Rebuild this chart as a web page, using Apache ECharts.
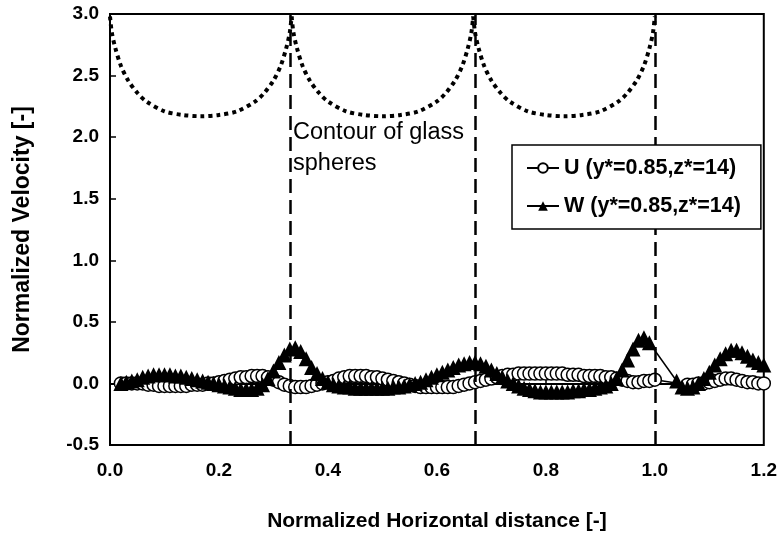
<!DOCTYPE html>
<html>
<head>
<meta charset="utf-8">
<script src="https://cdn.jsdelivr.net/npm/echarts@6/dist/echarts.min.js"></script>
<style>
html, body { margin: 0; padding: 0; background: #fff; }
#chart { width: 780px; height: 539px; }
</style>
</head>
<body>
<div id="chart"></div>
<script>
// U velocity (open circles)
var uX = [0.02,0.03,0.04,0.05,0.06,0.07,0.08,0.09,0.10,0.11,
  0.12,0.13,0.14,0.15,0.16,0.17,0.18,0.19,0.20,0.21,
  0.22,0.23,0.24,0.25,0.26,0.27,0.28,0.29,0.30,0.31,
  0.32,0.33,0.34,0.35,0.36,0.37,0.38,0.39,0.40,0.41,
  0.42,0.43,0.44,0.45,0.46,0.47,0.48,0.49,0.50,0.51,
  0.52,0.53,0.54,0.55,0.56,0.57,0.58,0.59,0.60,0.61,
  0.62,0.63,0.64,0.65,0.66,0.67,0.68,0.69,0.70,0.71,
  0.72,0.73,0.74,0.75,0.76,0.77,0.78,0.79,0.80,0.81,
  0.82,0.83,0.84,0.85,0.86,0.87,0.88,0.89,0.90,0.91,
  0.92,0.93,0.94,0.95,0.96,0.97,0.98,0.99,1.00,
  1.06,1.07,1.08,1.09,1.10,1.11,1.12,1.13,1.14,1.15,1.16,1.17,1.18,1.19,1.20];
var uVals = [0.00,0.00,0.00,0.00,0.00,-0.01,-0.01,-0.02,-0.02,-0.02,
  -0.02,-0.02,-0.02,-0.01,-0.01,-0.01,0.00,0.00,0.01,0.02,
  0.03,0.04,0.05,0.05,0.06,0.06,0.06,0.05,0.03,0.01,
  -0.01,-0.02,-0.03,-0.03,-0.03,-0.02,-0.01,0.00,0.01,0.02,
  0.04,0.05,0.06,0.06,0.06,0.06,0.05,0.05,0.04,0.03,
  0.02,0.01,0.00,-0.01,-0.02,-0.03,-0.03,-0.03,-0.03,-0.03,
  -0.03,-0.03,-0.02,-0.01,0.00,0.01,0.02,0.03,0.04,0.05,
  0.06,0.07,0.07,0.08,0.08,0.08,0.08,0.08,0.08,0.08,
  0.08,0.08,0.07,0.07,0.07,0.06,0.06,0.06,0.06,0.05,
  0.05,0.04,0.03,0.02,0.01,0.01,0.02,0.02,0.03,
  -0.01,-0.01,0.00,0.00,0.01,0.02,0.03,0.04,0.04,0.03,0.02,0.01,0.01,0.00,0.00];

// W velocity (filled triangles)
var wX = [0.02,0.03,0.04,0.05,0.06,0.07,0.08,0.09,0.10,0.11,
  0.12,0.13,0.14,0.15,0.16,0.17,0.18,0.19,0.20,0.21,
  0.22,0.23,0.24,0.25,0.26,0.27,0.28,0.29,0.30,0.31,
  0.32,0.33,0.34,0.35,0.36,0.37,0.38,0.39,0.40,0.41,
  0.42,0.43,0.44,0.45,0.46,0.47,0.48,0.49,0.50,0.51,
  0.52,0.53,0.54,0.55,0.56,0.57,0.58,0.59,0.60,0.61,
  0.62,0.63,0.64,0.65,0.66,0.67,0.68,0.69,0.70,0.71,
  0.72,0.73,0.74,0.75,0.76,0.77,0.78,0.79,0.80,0.81,
  0.82,0.83,0.84,0.85,0.86,0.87,0.88,0.89,0.90,0.91,
  0.92,0.93,0.94,0.95,0.96,0.97,0.98,0.99,
  1.04,1.05,1.06,1.07,1.08,1.09,1.10,1.11,1.12,1.13,1.14,1.15,1.16,1.17,1.18,1.19,1.20];
var wVals = [0.00,0.01,0.02,0.03,0.05,0.06,0.07,0.07,0.07,0.07,
  0.06,0.06,0.05,0.04,0.03,0.02,0.01,0.00,-0.01,-0.02,
  -0.03,-0.04,-0.05,-0.05,-0.05,-0.04,-0.01,0.04,0.10,0.17,
  0.23,0.28,0.29,0.26,0.20,0.13,0.08,0.04,0.01,-0.01,
  -0.02,-0.03,-0.03,-0.04,-0.04,-0.04,-0.04,-0.04,-0.04,-0.04,
  -0.03,-0.03,-0.02,-0.01,0.00,0.01,0.03,0.05,0.07,0.09,
  0.11,0.13,0.15,0.16,0.17,0.17,0.16,0.14,0.11,0.08,
  0.05,0.02,0.00,-0.02,-0.04,-0.05,-0.06,-0.07,-0.07,-0.07,
  -0.07,-0.07,-0.07,-0.06,-0.06,-0.05,-0.05,-0.04,-0.03,-0.02,
  0.00,0.04,0.11,0.19,0.28,0.35,0.37,0.33,
  0.02,-0.03,-0.04,-0.03,0.00,0.04,0.09,0.15,0.20,0.24,0.27,0.27,0.25,0.22,0.19,0.17,0.15];

// glass sphere contour: edges and one arch profile (fraction across sphere -> height)
var sphereEdges = [0, 1 / 3, 2 / 3, 1.0];
var archT = [0, 0.01, 0.03, 0.06, 0.1, 0.15, 0.2, 0.3, 0.4, 0.5, 0.6, 0.7, 0.8, 0.85, 0.9, 0.94, 0.97, 0.99, 1];
var archY = [2.98, 2.85, 2.72, 2.58, 2.46, 2.36, 2.29, 2.21, 2.18, 2.17, 2.18, 2.21, 2.29, 2.36, 2.46, 2.58, 2.72, 2.85, 2.98];

var legendNames = ['U (y*=0.85,z*=14)', 'W (y*=0.85,z*=14)'];

var FONT = '"Liberation Sans", Arial, sans-serif';

function pairs(xs, ys) {
  return xs.map(function (x, i) { return [x, ys[i]]; });
}

var series = [];
for (var s = 0; s < 3; s++) {
  var a = sphereEdges[s], b = sphereEdges[s + 1];
  series.push({
    type: 'line',
    name: 'contour' + s,
    data: archT.map(function (t, j) { return [a + t * (b - a), archY[j]]; }),
    showSymbol: false,
    smooth: 0.3,
    lineStyle: { color: '#000', width: 4, type: [4, 4] },
    silent: true,
    z: 1
  });
}

series.push({
  type: 'line',
  name: legendNames[0],
  data: pairs(uX, uVals),
  symbol: 'circle',
  symbolSize: 13,
  lineStyle: { color: '#000', width: 1.5 },
  itemStyle: { color: '#fff', borderColor: '#000', borderWidth: 1.5 },
  markLine: {
    silent: true,
    symbol: 'none',
    label: { show: false },
    lineStyle: { color: '#000', width: 2.5, type: [14, 7] },
    data: sphereEdges.slice(1).map(function (v) { return { xAxis: v }; })
  },
  z: 3
});

series.push({
  type: 'line',
  name: legendNames[1],
  data: pairs(wX, wVals),
  symbol: 'triangle',
  symbolSize: 15,
  lineStyle: { color: '#000', width: 1.5 },
  itemStyle: { color: '#000' },
  z: 4
});

var chart = echarts.init(document.getElementById('chart'));
chart.setOption({
  animation: false,
  backgroundColor: '#fff',
  grid: { left: 110, right: 15, top: 14, bottom: 94, show: true, borderColor: '#000', borderWidth: 2 },
  xAxis: {
    type: 'value',
    min: 0, max: 1.2, interval: 0.2,
    name: 'Normalized Horizontal distance [-]',
    nameLocation: 'middle',
    nameGap: 66,
    nameTextStyle: { fontFamily: FONT, fontWeight: 'bold', fontSize: 21, color: '#000' },
    axisLine: { lineStyle: { color: '#000', width: 2 } },
    axisTick: { inside: true, length: 6, lineStyle: { color: '#000', width: 1.5 } },
    axisLabel: { margin: 16, fontFamily: FONT, fontWeight: 'bold', fontSize: 19, color: '#000',
      formatter: function (v) { return v.toFixed(1); } },
    splitLine: { show: false }
  },
  yAxis: {
    type: 'value',
    min: -0.5, max: 3.0, interval: 0.5,
    name: 'Normalized Velocity [-]',
    nameLocation: 'middle',
    nameGap: 76,
    nameTextStyle: { fontFamily: FONT, fontWeight: 'bold', fontSize: 23, color: '#000' },
    axisLine: { lineStyle: { color: '#000', width: 2 } },
    axisTick: { inside: true, length: 6, lineStyle: { color: '#000', width: 1.5 } },
    axisLabel: { margin: 11, fontFamily: FONT, fontWeight: 'bold', fontSize: 19, color: '#000',
      formatter: function (v) { return v.toFixed(1); } },
    splitLine: { show: false }
  },
  legend: {
    data: legendNames,
    orient: 'vertical',
    left: 512, top: 145,
    z: 20,
    backgroundColor: '#fff',
    borderColor: '#000',
    borderWidth: 1.5,
    padding: [12, 20, 12, 14],
    itemWidth: 32, itemHeight: 12, itemGap: 16,
    textStyle: { fontFamily: FONT, fontWeight: 'bold', fontSize: 21.5, color: '#000' }
  },
  graphic: [{
    type: 'text',
    left: 293, top: 117,
    style: { text: 'Contour of glass\nspheres', font: '23.5px "Liberation Sans", Arial, sans-serif', lineHeight: 31, fill: '#000' },
    z: 10
  }],
  series: series
});
</script>
</body>
</html>
